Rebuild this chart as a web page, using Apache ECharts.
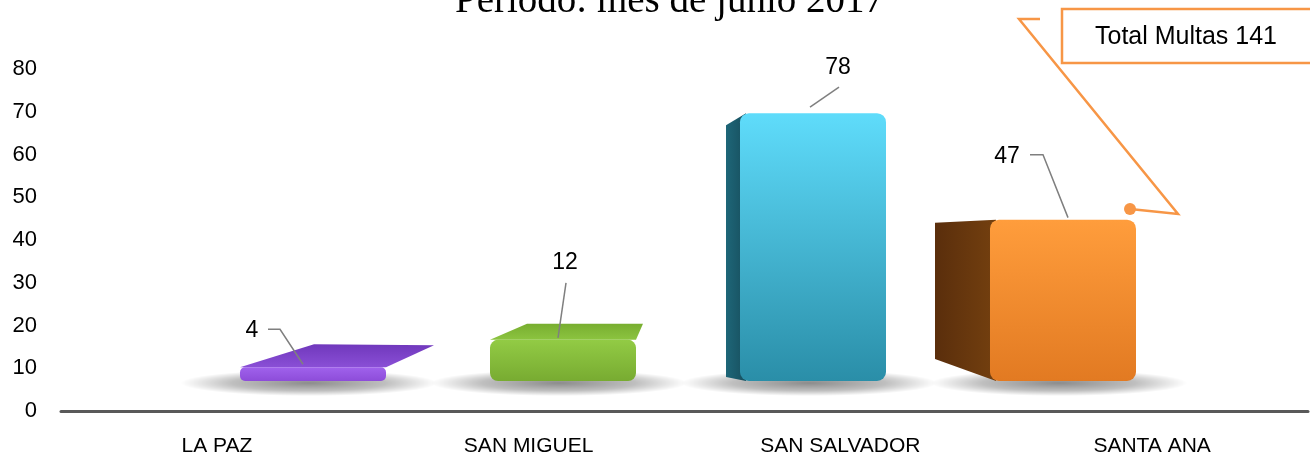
<!DOCTYPE html>
<html>
<head>
<meta charset="utf-8">
<script src="https://cdn.jsdelivr.net/npm/echarts@6/dist/echarts.min.js"></script>
<style>
  html, body { margin: 0; padding: 0; background: #fff; }
  #grafico { width: 1310px; height: 458px; }
</style>
</head>
<body>
<div id="grafico"></div>
<script>
// datos del grafico
var regiones = ['LA PAZ', 'SAN MIGUEL', 'SAN SALVADOR', 'SANTA ANA'];
var multas = [4, 12, 78, 47];
var ejeYMin = 0;
var ejeYMax = 80;
var ejeYPaso = 10;
var titulo = 'Periodo: mes de junio 2017';

var totalMultas = multas.reduce(function (a, b) { return a + b; }, 0);

// estilo de cada barra 3D (caras visibles y etiqueta desplazada)
var caras = [
  { frente: ['#a062ec', '#8d4cd9'], lado: ['#7038bc', '#8a4fd6'], oTL: [74, -23], oTR: [48, -22], r: 5,
    etq: [-61, -37], linea: [[-45, -38], [-33, -38], [-10, -3]] },
  { frente: ['#92cb45', '#78ab31'], lado: ['#78ae30', '#8cc440'], oTL: [37, -16], oTR: [7, -16], r: 8,
    etq: [2, -77], linea: [[3, -57], [-5, -2]] },
  { frente: ['#5fdcfb', '#2a8ea8'], lado: ['#1e6678', '#174f5e'], oTL: [-14, 12], oBL: [-14, -4], r: 9,
    etq: [25, -46], linea: [[26, -26], [-3, -6]] },
  { frente: ['#ff9d3c', '#e27a22'], lado: ['#5a2e0c', '#74400f'], oTL: [-55, 3], oBL: [-55, -22], r: 9,
    etq: [-56, -63], linea: [[-33, -65], [-20, -65], [5, -2]] }
];
var anchoBarra = 146;

function barra3D(params, api) {
  var i = params.dataIndex;
  var c = caras[i];
  var v = api.value(1);
  var arriba = api.coord([api.value(0), v]);
  var base = api.coord([api.value(0), 0]);
  var x0 = arriba[0] - anchoBarra / 2;
  var x1 = arriba[0] + anchoBarra / 2;
  var yT = arriba[1];
  var yB = base[1];
  var hijos = [];

  // sombra en el piso
  var sw = anchoBarra + 110, sh = 26, scx = arriba[0] - 4, scy = yB + 2;
  hijos.push({
    type: 'rect',
    shape: { x: scx - sw / 2, y: scy - sw / 2, width: sw, height: sw },
    originX: scx, originY: scy, scaleY: sh / sw,
    style: {
      fill: new echarts.graphic.RadialGradient(0.5, 0.5, 0.5, [
        { offset: 0, color: 'rgba(0,0,0,0.45)' },
        { offset: 0.6, color: 'rgba(0,0,0,0.25)' },
        { offset: 1, color: 'rgba(0,0,0,0)' }
      ])
    }
  });

  // cara superior o lateral
  if (c.oTR) {
    hijos.push({
      type: 'polygon',
      shape: { points: [[x0, yT], [x1, yT], [x1 + c.oTR[0], yT + c.oTR[1]], [x0 + c.oTL[0], yT + c.oTL[1]]] },
      style: { fill: new echarts.graphic.LinearGradient(0, 0, 0, 1, [
        { offset: 0, color: c.lado[0] }, { offset: 1, color: c.lado[1] }]) }
    });
  } else {
    hijos.push({
      type: 'polygon',
      shape: { points: [[x0 + 6, yT], [x0 + c.oTL[0], yT + c.oTL[1]], [x0 + c.oBL[0], yB + c.oBL[1]], [x0 + 6, yB]] },
      style: { fill: new echarts.graphic.LinearGradient(0, 0, 1, 0, [
        { offset: 0, color: c.lado[0] }, { offset: 1, color: c.lado[1] }]) }
    });
  }

  // cara frontal
  hijos.push({
    type: 'rect',
    shape: { x: x0, y: yT, width: anchoBarra, height: yB - yT, r: c.r },
    style: { fill: new echarts.graphic.LinearGradient(0, 0, 0, 1, [
      { offset: 0, color: c.frente[0] }, { offset: 1, color: c.frente[1] }]) }
  });

  // linea guia y etiqueta
  var pts = c.linea.map(function (p) { return [arriba[0] + p[0], yT + p[1]]; });
  hijos.push({
    type: 'polyline',
    shape: { points: pts },
    style: { stroke: '#7f7f7f', lineWidth: 1.5, fill: null }
  });
  hijos.push({
    type: 'text',
    x: arriba[0] + c.etq[0],
    y: yT + c.etq[1],
    style: {
      text: String(v), fill: '#000', fontSize: 23, fontFamily: 'Liberation Sans',
      align: 'center', verticalAlign: 'middle'
    }
  });

  return { type: 'group', children: hijos };
}

var grafico = echarts.init(document.getElementById('grafico'));
grafico.setOption({
  animation: false,
  grid: [
    { left: 61, right: 2, top: 69, bottom: 47 },
    { left: 188, right: 122, top: 72, bottom: 77 }
  ],
  xAxis: [
    {
      type: 'category', gridIndex: 0, data: regiones,
      axisLine: { show: true, lineStyle: { color: '#595959', width: 3 } },
      axisTick: { show: false },
      axisLabel: { color: '#000', fontSize: 21, fontFamily: 'Liberation Sans', margin: 25 }
    },
    { type: 'category', gridIndex: 1, data: regiones, show: false }
  ],
  yAxis: [
    {
      type: 'value', gridIndex: 0, min: ejeYMin, max: ejeYMax, interval: ejeYPaso,
      axisLine: { show: false }, axisTick: { show: false }, splitLine: { show: false },
      axisLabel: { color: '#000', fontSize: 22, fontFamily: 'Liberation Sans', margin: 24 }
    },
    { type: 'value', gridIndex: 1, min: 0, max: 90, show: false, splitLine: { show: false } }
  ],
  series: [
    {
      type: 'custom', name: 'Multas', xAxisIndex: 1, yAxisIndex: 1,
      renderItem: barra3D,
      data: regiones.map(function (r, i) { return [i, multas[i]]; })
    }
  ],
  graphic: [
    {
      type: 'text', left: 455, top: -18,
      style: { text: titulo, fill: '#000', fontSize: 39, fontFamily: 'Liberation Serif' }
    },
    {
      type: 'polyline',
      shape: { points: [[1040, 19], [1019, 19], [1178, 214], [1130, 209]] },
      style: { stroke: '#f79646', lineWidth: 2.5, fill: null }
    },
    {
      type: 'circle', shape: { cx: 1130, cy: 209, r: 6 },
      style: { fill: '#f79646' }
    },
    {
      type: 'rect', shape: { x: 1062, y: 9, width: 260, height: 54 },
      style: { fill: '#fff', stroke: '#f79646', lineWidth: 2.5 }
    },
    {
      type: 'text', x: 1186, y: 37,
      style: {
        text: 'Total Multas ' + totalMultas, fill: '#000', fontSize: 25, fontFamily: 'Liberation Sans',
        align: 'center', verticalAlign: 'middle'
      }
    }
  ]
});
</script>
</body>
</html>
